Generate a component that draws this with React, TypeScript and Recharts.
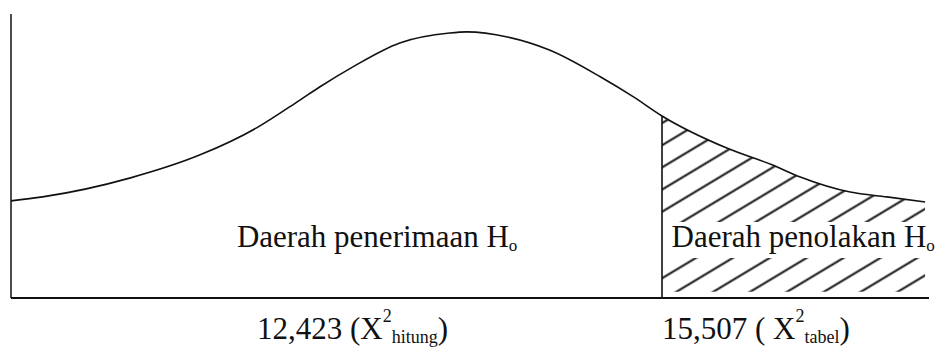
import { ComposedChart, Area, Line, XAxis, YAxis, ReferenceLine, ReferenceDot } from "recharts";

// chi-square axis, curve heights as a fraction of the plot height
const X_DOMAIN = [10.55, 17.54];
const X_VALUES = [
  10.55, 10.79, 11.46, 11.99, 12.42, 12.75, 12.9, 13.15, 13.51, 13.89, 14.02,
  14.33, 14.65, 15.04, 15.29, 15.507, 16.0, 16.35, 16.56, 16.94, 17.22, 17.51,
];
const CURVE = [
  0.342, 0.356, 0.423, 0.504, 0.599, 0.697, 0.743, 0.813, 0.898, 0.933, 0.937,
  0.919, 0.873, 0.778, 0.708, 0.641, 0.528, 0.468, 0.426, 0.373, 0.356, 0.338,
];

const X_HITUNG = 12.423;
const X_TABEL = 15.507;

const TICK_VALUES = [X_HITUNG, X_TABEL];
const TICK_MAIN = ["12,423 (X", "15,507 ( X"];
const TICK_SUB = ["hitung", "tabel"];

const REGION_TEXT = ["Daerah penerimaan H", "Daerah penolakan H"];
const REGION_X = [12.27, 15.58];
const REGION_Y = 0.18;

// hatching in the rejection area: a low strip and the part above the label
const HATCH_LOW = [0.022, 0.141];
const HATCH_TOP_FROM = 0.268;

const FONT = "Liberation Serif, Tinos, DejaVu Serif, serif";
const INK = "#111";

const data = X_VALUES.map((x, i) => {
  const inTail = x >= X_TABEL;
  return {
    x,
    curve: CURVE[i],
    hatchLow: inTail ? HATCH_LOW : null,
    hatchTop: inTail ? [HATCH_TOP_FROM, CURVE[i]] : null,
  };
});

const tabelHeight = CURVE[X_VALUES.indexOf(X_TABEL)];

function ChiTick({ x, y, payload }: any) {
  const i = TICK_VALUES.indexOf(payload.value);
  if (i < 0) return null;
  return (
    <text x={x} y={y + 41} style={{ fontFamily: FONT }} fontSize={31} fill={INK} textAnchor="start">
      {TICK_MAIN[i]}
      <tspan fontSize={18} dy={-17}>2</tspan>
      <tspan fontSize={18} dy={21}>{TICK_SUB[i]}</tspan>
      <tspan fontSize={31} dy={-4}>)</tspan>
    </text>
  );
}

function regionLabel(text: string) {
  return (props: any) => {
    const vb = props.viewBox || {};
    return (
      <text x={vb.x} y={vb.y} style={{ fontFamily: FONT }} fontSize={31} fill={INK} textAnchor="start">
        {text}
        <tspan fontSize={17} dy={4}>o</tspan>
      </text>
    );
  };
}

export default function App() {
  return (
    <div style={{ width: 947, height: 349, background: "#fff" }}>
      <style>{"body{margin:0;background:#fff}"}</style>
      <ComposedChart
        width={947}
        height={349}
        data={data}
        margin={{ top: 14, right: 18, bottom: 0, left: 10 }}
      >
        <defs>
          <pattern
            id="hatch"
            patternUnits="userSpaceOnUse"
            width={40}
            height={19}
            patternTransform="rotate(-31)"
          >
            <line x1={0} y1={9.5} x2={40} y2={9.5} stroke={INK} strokeWidth={2} />
          </pattern>
        </defs>
        <XAxis
          dataKey="x"
          type="number"
          domain={X_DOMAIN}
          ticks={TICK_VALUES}
          interval={0}
          tickLine={false}
          tickSize={0}
          tickMargin={0}
          height={51}
          axisLine={{ stroke: INK, strokeWidth: 2 }}
          tick={<ChiTick />}
        />
        <YAxis
          type="number"
          domain={[0, 1]}
          width={1}
          tick={false}
          tickLine={false}
          axisLine={{ stroke: INK, strokeWidth: 1.5 }}
        />
        <Area
          dataKey="hatchLow"
          type="monotone"
          stroke="none"
          fill="url(#hatch)"
          fillOpacity={1}
          isAnimationActive={false}
          activeDot={false}
        />
        <Area
          dataKey="hatchTop"
          type="monotone"
          stroke="none"
          fill="url(#hatch)"
          fillOpacity={1}
          isAnimationActive={false}
          activeDot={false}
        />
        <Line
          dataKey="curve"
          type="monotone"
          stroke={INK}
          strokeWidth={1.6}
          dot={false}
          activeDot={false}
          isAnimationActive={false}
        />
        <ReferenceLine
          segment={[
            { x: X_TABEL, y: 0 },
            { x: X_TABEL, y: tabelHeight },
          ]}
          stroke={INK}
          strokeWidth={1.6}
        />
        {REGION_TEXT.map((t, i) => (
          <ReferenceDot
            key={t}
            x={REGION_X[i]}
            y={REGION_Y}
            r={0}
            fill="none"
            stroke="none"
            label={regionLabel(t)}
          />
        ))}
      </ComposedChart>
    </div>
  );
}
